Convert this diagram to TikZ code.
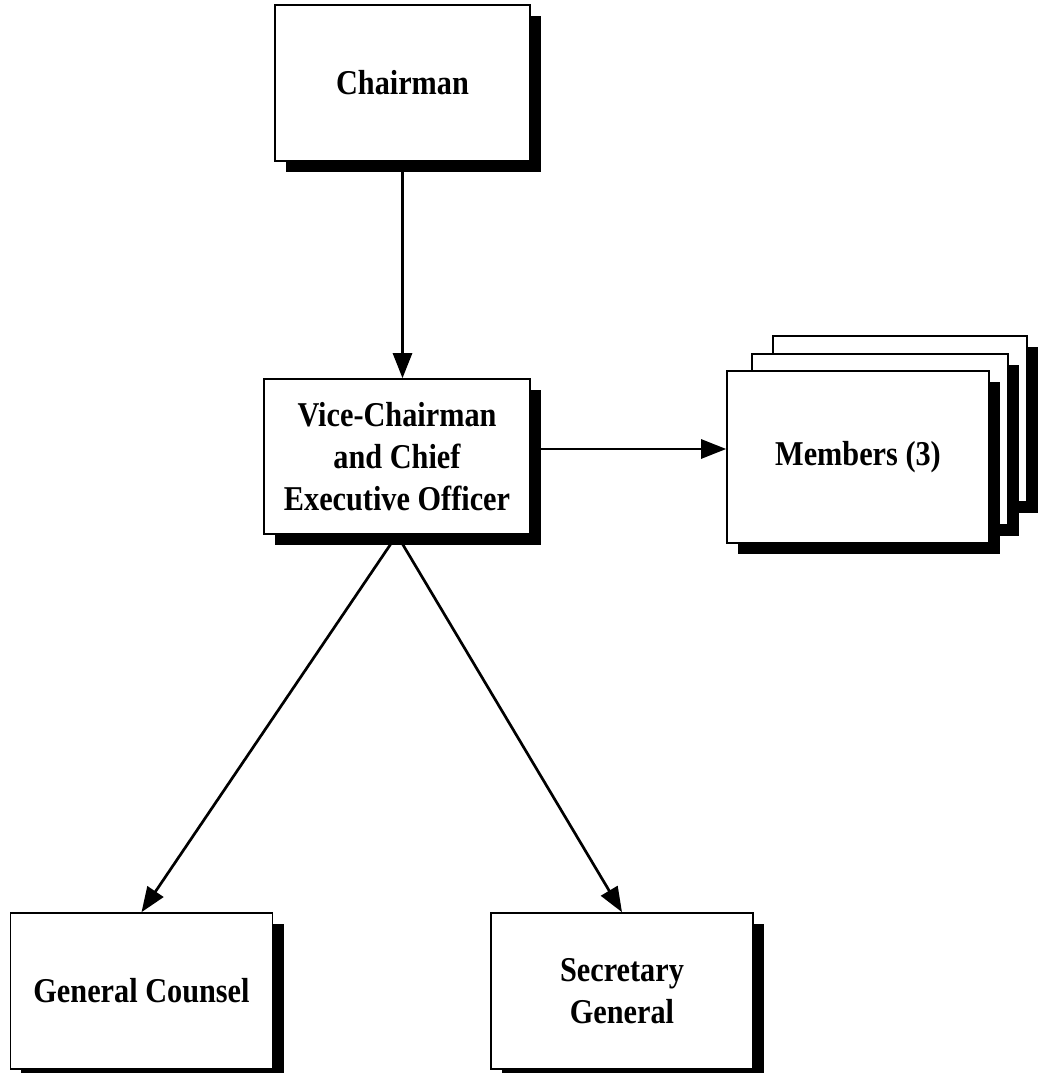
\documentclass[tikz,border=0pt]{standalone}
\usepackage{fontspec}
\setmainfont{Liberation Serif}[FakeStretch=0.87]
\usetikzlibrary{arrows.meta,shadows,backgrounds}
\tikzset{
  box/.style={draw, line width=0.8pt, fill=white, minimum width=131pt,
    minimum height=78pt, align=center,
    font=\bfseries\fontsize{17.4}{21}\selectfont,
    drop shadow={shadow xshift=5.5pt, shadow yshift=-5.5pt, opacity=1, fill=black}},
  link/.style={line width=1.35pt, -{Triangle[length=12.5pt,width=9.5pt]}}
}
\begin{document}
\begin{tikzpicture}[x=50pt,y=50pt]
\useasboundingbox (0,0) rectangle (10.39,10.73);
\node[box, minimum width=127.5pt] (chair) at (4.025,9.90) {Chairman};
\node[box, minimum width=133pt, minimum height=77.5pt] (vc) at (3.97,6.165)
  {Vice-Chairman\\ and Chief\\Executive Officer};
\node[box, minimum width=127pt, minimum height=83pt] (mem3) at (9.00,6.54) {};
\node[box, minimum width=128pt, minimum height=85.5pt] (mem2) at (8.80,6.335) {};
\node[box, minimum height=86pt] (mem) at (8.58,6.16) {Members (3)};
\node[box] (gc) at (1.415,0.82) {General Counsel};
\node[box] (sg) at (6.22,0.82) {Secretary\\General};
\coordinate (a) at ([yshift=3.75pt]vc.east);
\begin{scope}[on background layer]
\draw[link] (chair.south) -- (chair.south |- vc.north);
\draw[link] (a) -- (a -| mem.west);
\draw[link] (vc.south) -- (gc.north);
\draw[link] (vc.south) -- (sg.north);
\end{scope}
\end{tikzpicture}
\end{document}
